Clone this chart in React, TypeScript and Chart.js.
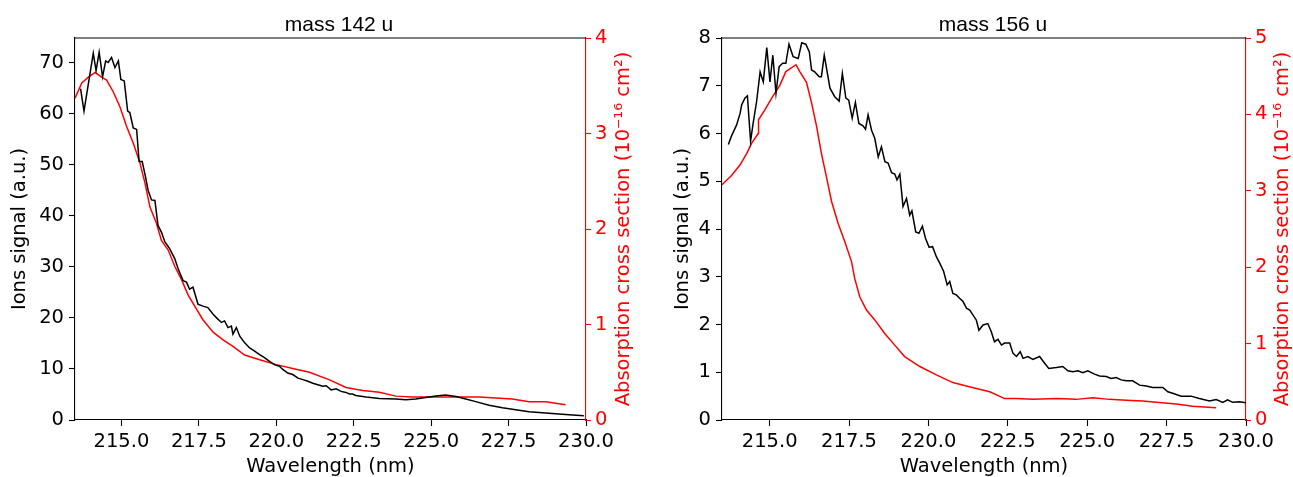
import React, { useEffect, useRef } from 'react';
import { Chart, registerables } from 'chart.js';

Chart.register(...registerables);

// ---------- DATA ----------
// mass 142 u : ion signal (a.u.)
const wl142Ion = [213.68, 213.79, 214.09, 214.18, 214.28, 214.39, 214.49, 214.57, 214.68, 214.79, 214.9, 214.98, 215.09, 215.2, 215.27, 215.38, 215.49, 215.57, 215.67, 215.78, 215.86, 215.97, 216.08, 216.18, 216.29, 216.4, 216.56, 216.72, 216.83, 216.99, 217.1, 217.2, 217.31, 217.47, 217.63, 217.79, 217.96, 218.12, 218.23, 218.33, 218.44, 218.55, 218.6, 218.71, 218.82, 218.98, 219.14, 219.3, 219.46, 219.62, 219.78, 219.95, 220.11, 220.21, 220.37, 220.53, 220.7, 220.86, 221.02, 221.18, 221.34, 221.5, 221.61, 221.77, 221.93, 222.09, 222.25, 222.36, 222.46, 222.57, 222.9, 223.33, 223.86, 224.18, 224.5, 224.83, 225.15, 225.47, 225.8, 226.12, 226.44, 226.87, 227.3, 227.73, 228.16, 228.59, 229.02, 229.45, 229.93];
const ion142 = [64.9, 60.5, 71.8, 68.4, 72.0, 67.2, 70.3, 70.0, 71.0, 69.0, 70.3, 66.7, 66.4, 60.5, 60.2, 57.2, 56.9, 50.6, 50.6, 47.5, 45.0, 43.1, 43.0, 38.1, 36.8, 34.9, 33.5, 31.6, 29.6, 27.3, 27.0, 25.6, 26.0, 22.7, 22.3, 22.0, 20.7, 19.7, 19.1, 19.4, 18.1, 18.4, 16.8, 18.1, 16.4, 15.1, 14.1, 13.5, 12.8, 12.2, 11.5, 10.8, 10.5, 9.9, 9.2, 8.9, 8.2, 7.9, 7.6, 7.2, 6.9, 6.6, 6.7, 5.9, 6.1, 5.6, 5.4, 5.1, 5.1, 4.8, 4.5, 4.2, 4.1, 3.95, 4.1, 4.4, 4.7, 4.9, 4.6, 4.1, 3.6, 2.9, 2.4, 2.0, 1.6, 1.4, 1.2, 1.05, 0.85];
// mass 142 u : absorption cross section (1e-16 cm2)
const wl142Abs = [213.5, 213.72, 213.93, 214.15, 214.36, 214.52, 214.73, 214.95, 215.17, 215.38, 215.59, 215.76, 215.92, 216.13, 216.29, 216.51, 216.72, 216.94, 217.15, 217.37, 217.63, 217.96, 218.28, 218.6, 218.98, 219.46, 220.0, 220.53, 221.07, 221.72, 222.25, 222.79, 223.33, 223.86, 224.4, 224.94, 225.47, 226.01, 226.55, 227.08, 227.62, 228.16, 228.7, 229.34];
const abs142 = [3.37, 3.53, 3.59, 3.64, 3.59, 3.56, 3.44, 3.28, 3.07, 2.9, 2.7, 2.48, 2.23, 2.06, 1.88, 1.78, 1.61, 1.47, 1.31, 1.19, 1.05, 0.92, 0.84, 0.77, 0.68, 0.63, 0.58, 0.54, 0.5, 0.42, 0.34, 0.31, 0.29, 0.25, 0.24, 0.24, 0.24, 0.24, 0.24, 0.23, 0.22, 0.19, 0.19, 0.16];

// mass 156 u : ion signal (a.u.)
const wl156Ion = [213.7, 213.8, 213.96, 214.07, 214.12, 214.22, 214.3, 214.4, 214.48, 214.59, 214.7, 214.8, 214.91, 215.01, 215.1, 215.2, 215.3, 215.41, 215.51, 215.61, 215.74, 215.9, 216.01, 216.14, 216.25, 216.32, 216.42, 216.56, 216.63, 216.72, 216.9, 217.05, 217.19, 217.29, 217.4, 217.49, 217.6, 217.7, 217.81, 217.94, 218.02, 218.1, 218.21, 218.31, 218.42, 218.52, 218.63, 218.73, 218.84, 218.94, 219.01, 219.1, 219.2, 219.31, 219.41, 219.48, 219.6, 219.7, 219.81, 219.91, 220.02, 220.13, 220.25, 220.36, 220.48, 220.59, 220.67, 220.77, 220.88, 220.98, 221.09, 221.2, 221.3, 221.4, 221.51, 221.59, 221.72, 221.87, 221.98, 222.08, 222.19, 222.3, 222.4, 222.56, 222.66, 222.77, 222.89, 222.98, 223.13, 223.29, 223.5, 223.66, 223.79, 224.03, 224.23, 224.39, 224.55, 224.71, 224.86, 225.02, 225.23, 225.39, 225.6, 225.75, 225.91, 226.07, 226.23, 226.43, 226.65, 226.86, 227.06, 227.38, 227.54, 227.69, 227.96, 228.27, 228.53, 228.85, 229.06, 229.27, 229.42, 229.58, 229.79, 230.0];
const ion156 = [5.77, 5.95, 6.18, 6.42, 6.6, 6.74, 6.79, 5.84, 6.21, 6.67, 7.29, 7.08, 7.8, 7.08, 7.64, 6.84, 7.4, 7.47, 7.47, 7.87, 7.61, 7.57, 7.9, 7.87, 7.71, 7.33, 7.29, 7.19, 7.19, 7.64, 6.95, 6.77, 6.68, 7.26, 6.74, 6.7, 6.32, 6.65, 6.21, 6.16, 6.09, 6.39, 6.07, 5.9, 5.51, 5.72, 5.41, 5.38, 5.18, 5.15, 5.03, 5.15, 4.47, 4.64, 4.29, 4.38, 3.94, 3.91, 4.06, 3.8, 3.62, 3.63, 3.42, 3.28, 3.11, 2.83, 2.9, 2.65, 2.62, 2.55, 2.48, 2.34, 2.3, 2.2, 2.09, 1.88, 1.99, 2.02, 1.85, 1.64, 1.69, 1.57, 1.61, 1.61, 1.4, 1.33, 1.43, 1.29, 1.33, 1.27, 1.33, 1.19, 1.08, 1.1, 1.12, 1.03, 1.01, 1.03, 0.99, 1.03, 0.96, 0.92, 0.91, 0.87, 0.89, 0.84, 0.82, 0.82, 0.73, 0.71, 0.68, 0.68, 0.59, 0.56, 0.5, 0.5, 0.45, 0.4, 0.43, 0.37, 0.42, 0.37, 0.38, 0.36];
// mass 156 u : absorption cross section (1e-16 cm2)
const wl156Abs = [213.5, 213.8, 214.07, 214.28, 214.43, 214.64, 214.65, 214.85, 215.06, 215.32, 215.51, 215.83, 215.95, 216.16, 216.32, 216.48, 216.63, 216.79, 216.95, 217.16, 217.37, 217.58, 217.68, 217.84, 218.05, 218.31, 218.63, 218.94, 219.25, 219.73, 220.25, 220.77, 221.35, 221.93, 222.4, 222.77, 223.29, 224.08, 224.65, 225.18, 225.7, 226.23, 226.75, 227.27, 227.8, 228.32, 229.06];
const abs156 = [3.08, 3.2, 3.34, 3.49, 3.62, 3.75, 3.93, 4.06, 4.21, 4.38, 4.56, 4.65, 4.56, 4.42, 4.15, 3.84, 3.49, 3.18, 2.86, 2.57, 2.33, 2.07, 1.85, 1.61, 1.44, 1.31, 1.13, 0.98, 0.83, 0.7, 0.59, 0.49, 0.43, 0.37, 0.28, 0.28, 0.27, 0.28, 0.27, 0.29, 0.27, 0.26, 0.25, 0.23, 0.21, 0.18, 0.16];

// Tick labels
const xTicks = [215.0, 217.5, 220.0, 222.5, 225.0, 227.5, 230.0];
const ion142Ticks = [0, 10, 20, 30, 40, 50, 60, 70];
const abs142Ticks = [0, 1, 2, 3, 4];
const ion156Ticks = [0, 1, 2, 3, 4, 5, 6, 7, 8];
const abs156Ticks = [0, 1, 2, 3, 4, 5];

const titles = ['mass 142 u', 'mass 156 u'];
const xLabel = 'Wavelength (nm)';
const yLabel = 'Ions signal (a.u.)';
const y1Label = 'Absorption cross section (10\u207B\u00B9\u2076 cm\u00B2)';

// ---------- STYLE ----------
const DV = '"DejaVu Sans", sans-serif';
const LIB = '"Liberation Sans", Arial, sans-serif';
const RED = '#ff0000';

interface PanelProps {
  left: number;
  width: number;
  title: string;
  wlIon: number[];
  ion: number[];
  wlAbs: number[];
  abs: number[];
  yMax: number;
  y1Max: number;
  yTicks: number[];
  y1Ticks: number[];
  yWidth: number;
  y1Width: number;
  titleX: number;
  yLabelX: number;
  y1LabelX: number;
}

function Panel(p: PanelProps) {
  const ref = useRef<HTMLCanvasElement | null>(null);
  useEffect(() => {
    if (!ref.current) return;
    const textPlugin = {
      id: 'texts',
      afterDraw(chart: any) {
        const ctx = chart.ctx;
        const a = chart.chartArea;
        ctx.save();
        // top spine
        ctx.strokeStyle = '#000';
        ctx.lineWidth = 1.1;
        ctx.beginPath();
        ctx.moveTo(a.left, a.top);
        ctx.lineTo(a.right, a.top);
        ctx.stroke();
        // title
        ctx.fillStyle = '#000';
        ctx.font = `21px ${LIB}`;
        ctx.textAlign = 'center';
        ctx.textBaseline = 'alphabetic';
        ctx.fillText(p.title, p.titleX, 30.5);
        // x label
        ctx.font = `19.5px ${DV}`;
        ctx.textBaseline = 'middle';
        ctx.fillText(xLabel, (a.left + a.right) / 2, 466.5);
        // left y label
        const cy = (a.top + a.bottom) / 2;
        ctx.save();
        ctx.translate(p.yLabelX, cy);
        ctx.rotate(-Math.PI / 2);
        ctx.fillText(yLabel, 0, 0);
        ctx.restore();
        // right y label
        ctx.save();
        ctx.translate(p.y1LabelX, cy);
        ctx.rotate(-Math.PI / 2);
        ctx.fillStyle = RED;
        ctx.fillText(y1Label, 0, 0);
        ctx.restore();
        ctx.restore();
      },
    };

    const ionData = p.wlIon.map((x, i) => ({ x, y: p.ion[i] }));
    const absData = p.wlAbs.map((x, i) => ({ x, y: p.abs[i] }));

    const chart = new Chart(ref.current, {
      type: 'line',
      data: {
        datasets: [
          {
            data: ionData,
            yAxisID: 'y',
            borderColor: '#000',
            borderWidth: 1.5,
            pointRadius: 0,
            tension: 0,
            fill: false,
          },
          {
            data: absData,
            yAxisID: 'y1',
            borderColor: RED,
            borderWidth: 1.5,
            pointRadius: 0,
            tension: 0,
            fill: false,
          },
        ],
      },
      options: {
        animation: false,
        responsive: false,
        maintainAspectRatio: false,
        layout: { padding: { top: 38, left: 0, right: 0, bottom: 0 } },
        plugins: { legend: { display: false }, tooltip: { enabled: false }, title: { display: false } },
        scales: {
          x: {
            type: 'linear',
            position: 'bottom',
            min: 213.5,
            max: 230,
            afterBuildTicks: (s: any) => { s.ticks = xTicks.map((v) => ({ value: v })); },
            afterFit: (s: any) => { s.height = 57; },
            ticks: {
              color: '#000',
              font: { family: DV, size: 19.5 },
              padding: 4,
              maxRotation: 0,
              autoSkip: false,
              callback: (v: any) => Number(v).toFixed(1),
            },
            grid: { drawOnChartArea: false, drawTicks: true, tickLength: 6, tickColor: '#000', tickWidth: 1.1 },
            border: { color: '#000', width: 1.1 },
          },
          y: {
            type: 'linear',
            position: 'left',
            min: 0,
            max: p.yMax,
            afterBuildTicks: (s: any) => { s.ticks = p.yTicks.map((v) => ({ value: v })); },
            afterFit: (s: any) => { s.width = p.yWidth; },
            ticks: { color: '#000', font: { family: DV, size: 19.5 }, padding: 5, autoSkip: false },
            grid: { drawOnChartArea: false, drawTicks: true, tickLength: 6, tickColor: '#000', tickWidth: 1.1 },
            border: { color: '#000', width: 1.1 },
          },
          y1: {
            type: 'linear',
            position: 'right',
            min: 0,
            max: p.y1Max,
            afterBuildTicks: (s: any) => { s.ticks = p.y1Ticks.map((v) => ({ value: v })); },
            afterFit: (s: any) => { s.width = p.y1Width; },
            ticks: { color: RED, font: { family: DV, size: 19.5 }, padding: 4, autoSkip: false },
            grid: { drawOnChartArea: false, drawTicks: true, tickLength: 5, tickColor: RED, tickWidth: 1.1 },
            border: { color: RED, width: 1.1 },
          },
        },
      },
      plugins: [textPlugin],
    } as any);
    return () => chart.destroy();
  }, []);
  return (
    <canvas
      ref={ref}
      width={p.width}
      height={477}
      style={{ position: 'absolute', left: p.left, top: 0, width: p.width, height: 477 }}
    />
  );
}

export default function App() {
  return (
    <div style={{ position: 'absolute', left: 0, top: 0, width: 1293, height: 477, background: '#fff' }}>
      <Panel
        left={0}
        width={650}
        title={titles[0]}
        wlIon={wl142Ion}
        ion={ion142}
        wlAbs={wl142Abs}
        abs={abs142}
        yMax={74.8}
        y1Max={4}
        yTicks={ion142Ticks}
        y1Ticks={abs142Ticks}
        yWidth={75}
        y1Width={64}
        titleX={339}
        yLabelX={20}
        y1LabelX={623.5}
      />
      <Panel
        left={650}
        width={643}
        title={titles[1]}
        wlIon={wl156Ion}
        ion={ion156}
        wlAbs={wl156Abs}
        abs={abs156}
        yMax={8}
        y1Max={5}
        yTicks={ion156Ticks}
        y1Ticks={abs156Ticks}
        yWidth={72}
        y1Width={47}
        titleX={343}
        yLabelX={33}
        y1LabelX={633}
      />
    </div>
  );
}
